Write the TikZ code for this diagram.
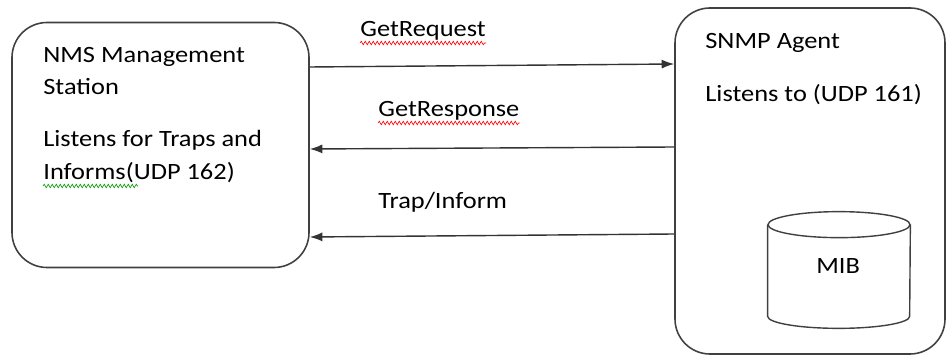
\documentclass[tikz,border=0pt]{standalone}
\usepackage{fontspec}
\setmainfont{Carlito}[FakeStretch=1.13]
\usepackage{tikz}
\usetikzlibrary{arrows.meta,decorations.pathmorphing}

\begin{document}
\begin{tikzpicture}[
x=0.2mm,
y=-0.2mm,
every node/.style={font=\fontsize{13.3}{18}\selectfont},
station/.style={rectangle,rounded corners=7mm,draw=black!75,line width=0.9pt,minimum width=59.4mm,minimum height=49mm},
agentbox/.style={rectangle,rounded corners=7mm,draw=black!75,line width=0.9pt,minimum width=54mm,minimum height=69.2mm},
db/.style={rectangle,inner sep=0pt,minimum width=28.4mm,minimum height=23.2mm},
dbline/.style={draw=black!75,line width=0.8pt},
txt/.style={anchor=base west,inner sep=0pt},
arr/.style={-{Latex[length=2.5mm,width=1.8mm]},draw=black!80,line width=0.8pt},
squig/.style={decorate,decoration={snake,amplitude=0.35mm,segment length=0.8mm},line width=0.35pt}
]
\useasboundingbox (0,0) rectangle (947,356);

\node[station] (nms) at (160.5,145) {};
\node[agentbox] (agent) at (810,181) {};
\node[db] (mib) at (839,270) {};
\node[txt] (mibtxt) at (816,274) {MIB};

% database drum
\draw[dbline] ([yshift=-2.6mm]mib.north) ellipse [x radius=14.2mm,y radius=2.6mm];
\draw[dbline] ([yshift=-2.6mm]mib.north west) -- ([yshift=2.4mm]mib.south west)
  arc[start angle=180,end angle=360,x radius=14.2mm,y radius=2.4mm] -- ([yshift=-2.6mm]mib.north east);

\node[txt] (nms1) at (43,63) {NMS Management};
\node[txt] (nms2) at (43,95) {Station};
\node[txt] (nms3) at (43,147) {Listens for Traps and};
\node[txt] (nms4) at (43,180) {Informs(UDP 162)};

\node[txt] (ag1) at (705,49) {SNMP Agent};
\node[txt] (ag2) at (705,102) {Listens to (UDP 161)};

\node[txt] (getreq) at (360,37) {GetRequest};
\node[txt] (getresp) at (378,117) {GetResponse};
\node[txt] (trap) at (378,209) {Trap/Inform};

\draw[arr] (nms.east |- 0,67) -- (agent.west |- 0,64);
\draw[arr] (agent.west |- 0,147) -- (nms.east |- 0,149);
\draw[arr] (agent.west |- 0,234) -- (nms.east |- 0,237);

% spell-check marks
\draw[squig,red] ([yshift=-1.2mm]getreq.base west) -- ([yshift=-1.2mm]getreq.base east);
\draw[squig,red] ([yshift=-1.2mm]getresp.base west) -- ([yshift=-1.2mm]getresp.base east);
\draw[squig,green!60!black] ([yshift=-1.2mm]nms4.base west) -- ++(95,0);
\end{tikzpicture}
\end{document}
